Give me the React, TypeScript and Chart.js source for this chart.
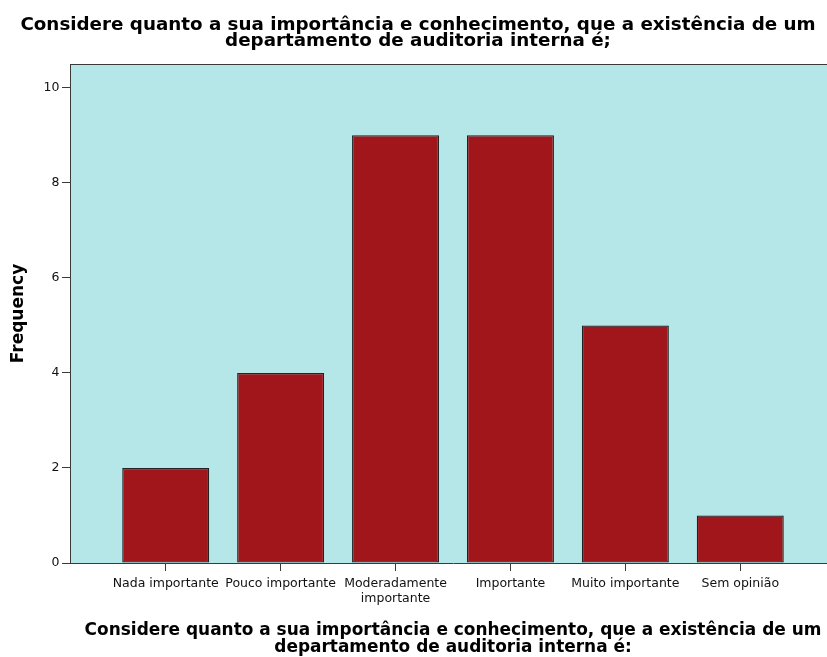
import React, { useEffect, useRef } from "react";
import { Chart, registerables } from "chart.js";

Chart.register(...registerables);

// Response categories (multi-line where the label wraps under the axis)
const categoryLines: string[][] = [
  ["Nada importante"],
  ["Pouco importante"],
  ["Moderadamente", "importante"],
  ["Importante"],
  ["Muito importante"],
  ["Sem opinião"],
];

// Number of respondents per category
const frequencies = [2, 4, 9, 9, 5, 1];

// Value-axis tick labels
const yTicks = [0, 2, 4, 6, 8, 10];

const titleLines = [
  "Considere quanto a sua importância e conhecimento, que a existência de um",
  "departamento de auditoria interna é;",
];

const xTitleLines = [
  "Considere quanto a sua importância e conhecimento, que a existência de um",
  "departamento de auditoria interna é:",
];

const yTitle = "Frequency";

const PLOT_BG = "#b5e6e8";
const BAR_FILL = "#a1161a";
const LINE_DARK = "#3a3a3a";

// The plot runs a little past the visible right edge, so the canvas is
// wider than its clipping frame.
const FRAME_W = 827;
const FRAME_H = 657;
const CANVAS_W = 836;

// Fills the plotting area and outlines its top edge
const plotFrame = {
  id: "plotFrame",
  beforeDraw(chart: Chart) {
    const { ctx, chartArea } = chart;
    ctx.save();
    ctx.fillStyle = PLOT_BG;
    ctx.fillRect(
      chartArea.left,
      chartArea.top,
      chartArea.right - chartArea.left,
      chartArea.bottom - chartArea.top
    );
    ctx.restore();
  },
  afterDraw(chart: Chart) {
    const { ctx, chartArea } = chart;
    ctx.save();
    ctx.strokeStyle = LINE_DARK;
    ctx.lineWidth = 1;
    ctx.beginPath();
    ctx.moveTo(chartArea.left, chartArea.top + 0.5);
    ctx.lineTo(chartArea.right, chartArea.top + 0.5);
    ctx.stroke();
    ctx.restore();
  },
};

export default function App() {
  const canvasRef = useRef<HTMLCanvasElement | null>(null);

  useEffect(() => {
    const canvas = canvasRef.current;
    if (!canvas) return;

    const chart = new Chart(canvas, {
      type: "bar",
      data: {
        datasets: [
          {
            data: frequencies.map((v, i) => ({ x: i, y: v })),
            backgroundColor: BAR_FILL,
            borderColor: "#222",
            borderWidth: 1.3,
            borderSkipped: false,
            barPercentage: 0.757,
            categoryPercentage: 1,
          },
        ],
      },
      options: {
        animation: false,
        responsive: false,
        events: [],
        layout: { padding: 0 },
        plugins: {
          legend: { display: false },
          tooltip: { enabled: false },
          title: {
            display: true,
            text: titleLines,
            color: "#000",
            font: { family: "DejaVu Sans", size: 18.3, weight: "bold", lineHeight: "16px" },
            padding: { top: 17.5, bottom: 14.5 },
          },
        },
        scales: {
          x: {
            type: "linear",
            min: -0.833,
            max: 5.833,
            offset: false,
            afterFit(scale: any) {
              scale.height = 94;
            },
            afterBuildTicks(scale: any) {
              scale.ticks = categoryLines.map((_, i) => ({ value: i }));
            },
            ticks: {
              autoSkip: false,
              maxRotation: 0,
              minRotation: 0,
              padding: 5.5,
              color: "#111",
              font: { family: "DejaVu Sans", size: 12.5, lineHeight: "15px" },
              callback: (value: any) => categoryLines[value as number] ?? "",
            },
            grid: {
              offset: false,
              drawOnChartArea: false,
              drawTicks: true,
              tickLength: 8,
              color: LINE_DARK,
            },
            border: { display: true, color: LINE_DARK, width: 1 },
            title: {
              display: true,
              text: xTitleLines,
              color: "#000",
              font: { family: "DejaVu Sans", size: 16.95, weight: "bold", lineHeight: "17px" },
              padding: { top: 0, bottom: 1.3 },
            },
          },
          y: {
            type: "linear",
            min: 0,
            max: 10.5,
            afterFit(scale: any) {
              scale.width = 70;
            },
            afterBuildTicks(scale: any) {
              scale.ticks = yTicks.map((v) => ({ value: v }));
            },
            ticks: {
              padding: 2.5,
              color: "#111",
              font: { family: "DejaVu Sans", size: 12.5 },
            },
            grid: {
              drawOnChartArea: false,
              drawTicks: true,
              tickLength: 8,
              color: LINE_DARK,
            },
            border: { display: true, color: LINE_DARK, width: 1 },
            title: {
              display: true,
              text: yTitle,
              color: "#000",
              font: { family: "DejaVu Sans", size: 17, weight: "bold", lineHeight: "17px" },
              padding: { top: 9.6, bottom: 0 },
            },
          },
        },
      },
      plugins: [plotFrame],
    });

    return () => chart.destroy();
  }, []);

  return (
    <div
      style={{
        position: "fixed",
        left: 0,
        top: 0,
        width: FRAME_W,
        height: FRAME_H,
        background: "#fff",
        overflow: "hidden",
      }}
    >
      <canvas ref={canvasRef} width={CANVAS_W} height={FRAME_H} style={{ display: "block" }} />
    </div>
  );
}
